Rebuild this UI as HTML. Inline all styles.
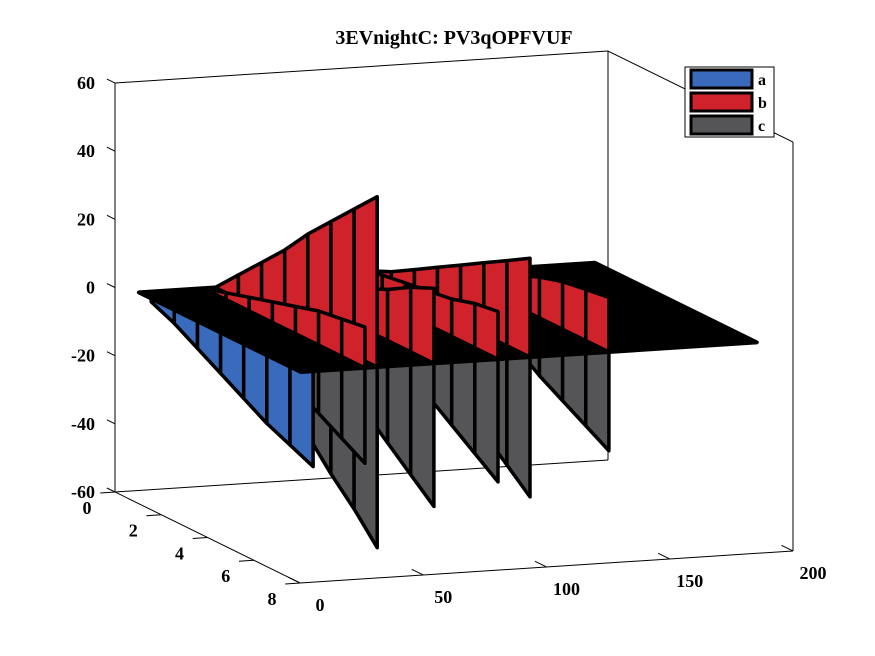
<!DOCTYPE html>
<html><head><meta charset="utf-8">
<style>
html,body{margin:0;padding:0;background:#fff;}
svg{display:block;font-family:"Liberation Serif",serif;font-weight:bold;}
</style></head>
<body>
<svg id="chart" width="875" height="656" viewBox="0 0 875 656">
<text x="454" y="44" text-anchor="middle" font-size="20">3EVnightC: PV3qOPFVUF</text>
<g id="axes"></g>
<g id="marks"></g>
<g>
<rect x="685" y="67" width="89" height="70" fill="#fff" stroke="#000" stroke-width="1"/>
<rect x="691" y="70" width="61" height="18" fill="#3a6abb" stroke="#000" stroke-width="3"/>
<text x="758" y="85" font-size="16">a</text>
<rect x="691" y="93" width="61" height="18" fill="#d0222b" stroke="#000" stroke-width="3"/>
<text x="758" y="108" font-size="16">b</text>
<rect x="691" y="116" width="61" height="18" fill="#555557" stroke="#000" stroke-width="3"/>
<text x="758" y="131" font-size="16">c</text>
</g>
</svg>
<script>
// ---- data ----
const yPoints = [0.5,1.5,2.5,3.5,4.5,5.5,6.5,7.5];
const seriesAx = [10];
const seriesA = [[-3,-6,-10,-14,-18,-22,-25,-28]];
const wallX = [31,36,59,85,98,130];
const seriesB = [
  [0,2,4,6,8,10,11,12],
  [0,7,14,21,29,36,43,50],
  [0,3,6,9,12,15,19,22],
  [6,7,8,9,10,11,13,14],
  [2,5,9,13,17,21,25,29],
  [0,3,6,9,12,14,15,16]
];
const seriesC = [
  [0,-4,-8,-12,-16,-20,-24,-28],
  [0,-8,-15,-23,-30,-38,-45,-53],
  [0,-6,-12,-18,-24,-30,-36,-42],
  [0,-5,-10,-15,-21,-26,-31,-36],
  [0,-6,-12,-18,-23,-29,-35,-41],
  [0,-4,-8,-12,-17,-21,-25,-29]
];
const planeX = [5,190];
const planeY = [0.5,7.5];
const zTicks = [-60,-40,-20,0,20,40,60];
const xTicks = [0,50,100,150,200];
const yTicks = [0,2,4,6,8];

// ---- projection ----
function P(x,y,z){
  return [115 + x*2.465 + y*23.125, 287.5 - x*0.16 + y*11.375 - z*3.408];
}
const NS='http://www.w3.org/2000/svg';
const axes=document.getElementById('axes');
const marks=document.getElementById('marks');
function line(g,a,b,w,name){
  const l=document.createElementNS(NS,'line');
  l.setAttribute('x1',a[0]);l.setAttribute('y1',a[1]);l.setAttribute('x2',b[0]);l.setAttribute('y2',b[1]);
  l.setAttribute('stroke','#000');l.setAttribute('stroke-width',w);
  
  
  g.appendChild(l);
}
function text(g,x,y,s,anchor,name){
  const t=document.createElementNS(NS,'text');
  t.setAttribute('x',x);t.setAttribute('y',y);t.setAttribute('font-size','18');t.setAttribute('text-anchor',anchor);
  t.textContent=s;
  
  
  g.appendChild(t);
}
function poly(g,pts,fill,w,name){
  const p=document.createElementNS(NS,'polygon');
  p.setAttribute('points',pts.map(q=>q[0].toFixed(1)+','+q[1].toFixed(1)).join(' '));
  p.setAttribute('fill',fill);p.setAttribute('stroke','#000');p.setAttribute('stroke-width',w);
  p.setAttribute('stroke-linejoin','round');
  
  
  g.appendChild(p);
}
// box
line(axes,P(0,0,-60),P(0,0,60),1,'z-axis-line');
line(axes,P(0,0,-60),P(200,0,-60),1,'back-bottom-edge');
line(axes,P(200,0,-60),P(200,0,60),1,'back-right-edge');
line(axes,P(0,0,60),P(200,0,60),1,'back-top-edge');
line(axes,P(200,0,60),P(200,8,60),1,'right-top-edge');
line(axes,P(200,8,-60),P(200,8,60),1,'right-vertical-edge');
line(axes,P(0,8,-60),P(200,8,-60),1,'x-axis-line');
line(axes,P(0,0,-60),P(0,8,-60),1,'y-axis-line');
zTicks.forEach(z=>{
  const a=P(0,0,z),b=P(0,-0.35,z);
  line(axes,a,b,1,'z-tick');
  text(axes,a[0]-20,a[1]+6,String(z),'end','z-tick-label');
});
xTicks.forEach(x=>{
  const a=P(x,8,-60),b=P(x,7.5,-60);
  line(axes,a,b,1,'x-tick');
  text(axes,a[0]+20,a[1]+28,String(x),'middle','x-tick-label');
});
yTicks.forEach(y=>{
  const a=P(0,y,-60),b=P(-6,y,-60);
  line(axes,a,b,1,'y-tick');
  text(axes,a[0]-28,a[1]+22,String(y),'middle','y-tick-label');
});
// wall drawing
function wall(x,vals,fill,name){
  for(let i=0;i<yPoints.length-1;i++){
    const y0=yPoints[i],y1=yPoints[i+1];
    poly(marks,[P(x,y0,0),P(x,y1,0),P(x,y1,vals[i+1]),P(x,y0,vals[i])],fill,3.5,name);
  }
}
const RED='#d0222b',GRAY='#555557',BLUE='#3a6abb';
const order=wallX.map((x,i)=>i).sort((a,b)=>wallX[b]-wallX[a]);
order.forEach(i=>wall(wallX[i],seriesC[i],GRAY,'ribbon-c'));
seriesAx.forEach((x,i)=>wall(x,seriesA[i],BLUE,'ribbon-a'));
poly(marks,[P(planeX[0],planeY[0],0),P(planeX[1],planeY[0],0),P(planeX[1],planeY[1],0),P(planeX[0],planeY[1],0)],'#000',4,'zero-plane');
order.forEach(i=>wall(wallX[i],seriesB[i],RED,'ribbon-b'));
</script>
</body></html>
